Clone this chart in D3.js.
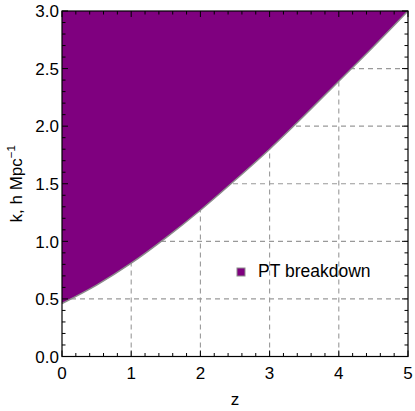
<!DOCTYPE html>
<html>
<head>
<meta charset="utf-8">
<script src="https://cdn.jsdelivr.net/npm/d3@7"></script>
<style>
  html, body { margin: 0; padding: 0; background: #fff; }
  svg { display: block; font-family: "Liberation Sans", Arial, sans-serif; }
</style>
</head>
<body>
<script>
// Boundary of the PT breakdown region, k(z)
const zValues = [0, 0.5, 1, 1.5, 2, 2.5, 3, 3.5, 4, 4.5, 5];
const kValues = [0.46, 0.62, 0.81, 1.03, 1.27, 1.53, 1.80, 2.09, 2.39, 2.69, 3.0];
const xTicks = [0, 1, 2, 3, 4, 5];
const yTicks = [0, 0.5, 1.0, 1.5, 2.0, 2.5, 3.0];
const legendLabel = "PT breakdown";

const width = 415, height = 411;
const margin = { top: 11, right: 7, bottom: 54.5, left: 62 };
const fontSize = 17;

const svg = d3.select("body").append("svg")
    .attr("width", width)
    .attr("height", height);

const x = d3.scaleLinear().domain([0, 5]).range([margin.left, width - margin.right]);
const y = d3.scaleLinear().domain([0, 3]).range([height - margin.bottom, margin.top]);

const points = zValues.map((z, i) => ({ z, k: kValues[i] }));

// Dashed grid
const grid = svg.append("g")
    .attr("stroke", "#999")
    .attr("stroke-width", 1.1)
    .attr("stroke-dasharray", "5,4");
grid.selectAll("line.gx")
    .data(xTicks.slice(1, -1))
    .join("line")
    .attr("x1", d => x(d)).attr("x2", d => x(d))
    .attr("y1", y(0)).attr("y2", y(3));
grid.selectAll("line.gy")
    .data(yTicks.slice(1, -1))
    .join("line")
    .attr("x1", x(0)).attr("x2", x(5))
    .attr("y1", d => y(d)).attr("y2", d => y(d));

// Filled region above the boundary
const area = d3.area()
    .x(d => x(d.z))
    .y0(y(3))
    .y1(d => y(d.k))
    .curve(d3.curveMonotoneX);

svg.append("path")
    .datum(points)
    .attr("fill", "#7f007f")
    .attr("d", area);

svg.append("path")
    .datum(points)
    .attr("fill", "none")
    .attr("stroke", "#8c8c8c")
    .attr("stroke-width", 1.5)
    .attr("d", d3.line().x(d => x(d.z)).y(d => y(d.k)).curve(d3.curveMonotoneX));

// Frame with inward ticks on all sides
const frame = svg.append("g").attr("stroke", "#000");
frame.append("rect")
    .attr("x", x(0)).attr("y", y(3))
    .attr("width", x(5) - x(0)).attr("height", y(0) - y(3))
    .attr("fill", "none")
    .attr("stroke-width", 1.2);

const xMinor = d3.range(0, 5.001, 0.2);
const yMinor = d3.range(0, 3.001, 0.1);
const isMajor = (v, step) => Math.abs(v / step - Math.round(v / step)) < 1e-6;

frame.selectAll("line.xt")
    .data(xMinor)
    .join("line")
    .attr("x1", d => x(d)).attr("x2", d => x(d))
    .attr("y1", y(0)).attr("y2", d => y(0) - (isMajor(d, 1) ? 6 : 3.5));
frame.selectAll("line.xtt")
    .data(xMinor)
    .join("line")
    .attr("x1", d => x(d)).attr("x2", d => x(d))
    .attr("y1", y(3)).attr("y2", d => y(3) + (isMajor(d, 1) ? 6 : 3.5));
frame.selectAll("line.yt")
    .data(yMinor)
    .join("line")
    .attr("y1", d => y(d)).attr("y2", d => y(d))
    .attr("x1", x(0)).attr("x2", d => x(0) + (isMajor(d, 0.5) ? 6 : 3.5));
frame.selectAll("line.ytr")
    .data(yMinor)
    .join("line")
    .attr("y1", d => y(d)).attr("y2", d => y(d))
    .attr("x1", x(5)).attr("x2", d => x(5) - (isMajor(d, 0.5) ? 6 : 3.5));

// Tick labels
svg.append("g")
    .attr("font-size", fontSize)
    .attr("text-anchor", "middle")
    .selectAll("text")
    .data(xTicks)
    .join("text")
    .attr("x", d => x(d))
    .attr("y", y(0) + 22)
    .text(d => d);

svg.append("g")
    .attr("font-size", fontSize)
    .attr("text-anchor", "end")
    .selectAll("text")
    .data(yTicks)
    .join("text")
    .attr("x", x(0) - 3)
    .attr("y", d => y(d) + 6.3)
    .text(d => d.toFixed(1));

// Axis labels
svg.append("text")
    .attr("x", (x(0) + x(5)) / 2)
    .attr("y", 405)
    .attr("text-anchor", "middle")
    .attr("font-size", fontSize)
    .text("z");

const yl = svg.append("text")
    .attr("transform", `translate(22,${(y(0) + y(3)) / 2}) rotate(-90)`)
    .attr("text-anchor", "middle")
    .attr("font-size", fontSize);
yl.append("tspan").text("k, h Mpc");
yl.append("tspan").attr("font-size", 11.5).attr("dy", -7).text("\u22121");

// Legend
const legend = svg.append("g").attr("transform", "translate(237,268)");
legend.append("rect")
    .attr("width", 8).attr("height", 8)
    .attr("fill", "#7f007f")
    .attr("stroke", "#8c8c8c")
    .attr("stroke-width", 1);
legend.append("text")
    .attr("x", 21).attr("y", 8.5)
    .attr("font-size", 17.5)
    .text(legendLabel);
</script>
</body>
</html>
